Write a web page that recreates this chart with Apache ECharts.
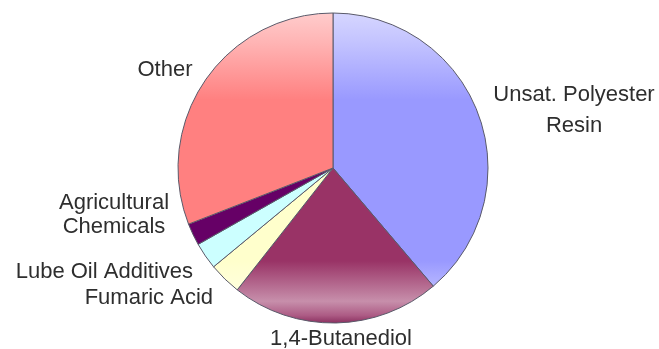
<!DOCTYPE html>
<html>
<head>
<meta charset="utf-8">
<style>
  html, body { margin: 0; padding: 0; background: #ffffff; }
  #chart { width: 659px; height: 349px; }
</style>
<script src="https://cdn.jsdelivr.net/npm/echarts@6/dist/echarts.min.js"></script>
</head>
<body>
<div id="chart"></div>
<script>
// Maleic anhydride end uses, share of consumption (%)
const categories = [
  'Unsat. Polyester\nResin',
  '1,4-Butanediol',
  'Fumaric Acid',
  'Lube Oil Additives',
  'Agricultural\nChemicals',
  'Other'
];
const shares = [38.8, 21.8, 3.4, 2.8, 2.3, 30.9];
const sliceColors = ['#9999ff', '#993366', '#ffffcc', '#ccffff', '#660066', '#ff8080'];

// Label anchor points and alignment for each slice
const labelPlaces = [
  { x: 574, y: 110, align: 'center', lineHeight: 31 },
  { x: 341, y: 339, align: 'center', lineHeight: 24 },
  { x: 213, y: 298, align: 'right', lineHeight: 24 },
  { x: 193, y: 272, align: 'right', lineHeight: 24 },
  { x: 114, y: 215, align: 'center', lineHeight: 24 },
  { x: 165, y: 70, align: 'center', lineHeight: 24 }
];

function hexToRgb(h) {
  const n = parseInt(h.slice(1), 16);
  return [(n >> 16) & 255, (n >> 8) & 255, n & 255];
}
function mix(hex, target, t) {
  const c = hexToRgb(hex);
  const r = c.map((v, i) => Math.round(v + (target[i] - v) * t));
  return 'rgb(' + r.join(',') + ')';
}
// Glossy vertical shading across the whole pie: highlight at top, sheen near bottom, dark rim
const pieTop = 13, pieBottom = 323;
function shade(hex) {
  const W = [255, 255, 255], K = [60, 30, 60];
  return new echarts.graphic.LinearGradient(0, pieTop, 0, pieBottom, [
    { offset: 0, color: mix(hex, W, 0.6) },
    { offset: 0.1, color: mix(hex, W, 0.4) },
    { offset: 0.28, color: hex },
    { offset: 0.8, color: hex },
    { offset: 0.93, color: mix(hex, W, 0.45) },
    { offset: 0.975, color: mix(hex, W, 0.2) },
    { offset: 1, color: mix(hex, K, 0.15) }
  ], true);
}

const chart = echarts.init(document.getElementById('chart'), null, { renderer: 'canvas' });

const data = categories.map((name, i) => ({
  name: name,
  value: shares[i],
  itemStyle: { color: shade(sliceColors[i]) },
  label: { lineHeight: labelPlaces[i].lineHeight }
}));

chart.setOption({
  animation: false,
  backgroundColor: '#ffffff',
  series: [{
    type: 'pie',
    center: [333, 168],
    radius: 155,
    startAngle: 90,
    clockwise: true,
    avoidLabelOverlap: false,
    data: data,
    itemStyle: { borderColor: '#5a5a6a', borderWidth: 1 },
    label: {
      show: true,
      position: 'outside',
      formatter: '{b}',
      color: '#2e2e2e',
      fontSize: 22,
      fontFamily: "'Liberation Sans', Arial, sans-serif"
    },
    labelLine: { show: false },
    labelLayout: function (p) {
      const L = labelPlaces[p.dataIndex];
      return { x: L.x, y: L.y, align: L.align, verticalAlign: 'middle' };
    },
    emphasis: { disabled: true }
  }]
});
</script>
</body>
</html>
